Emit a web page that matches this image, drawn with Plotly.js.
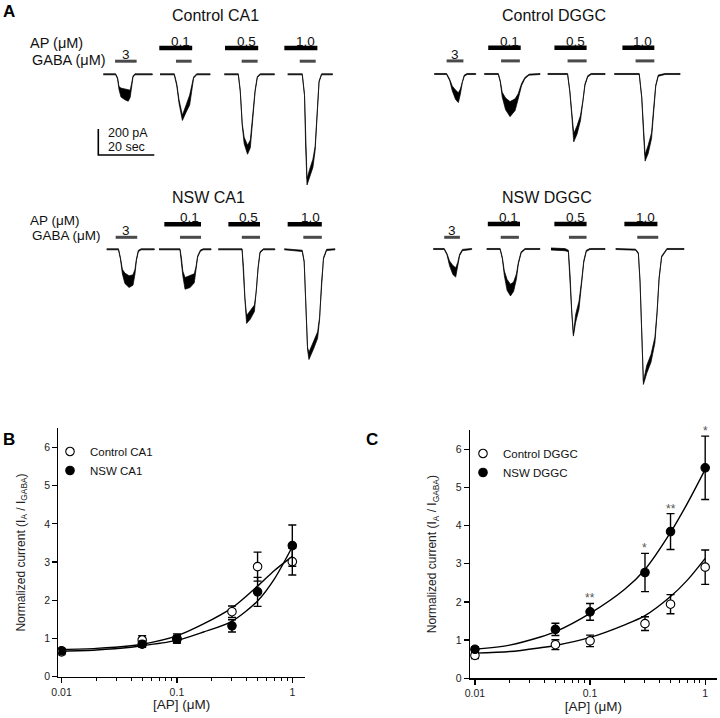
<!DOCTYPE html>
<html><head><meta charset="utf-8">
<script src="https://cdn.plot.ly/plotly-3.0.1.min.js"></script>
<style>html,body{margin:0;padding:0;background:#fff}#chart{width:720px;height:718px}</style>
</head><body><div id="chart"></div>
<script>
// ================= DATA =================
// Panels B & C: normalized current vs [AP] (uM)
const concAP = [0.01, 0.05, 0.1, 0.3, 0.5, 1];
const ctlCA1 = [0.65, 0.96, 1.00, 1.70, 2.88, 3.01];
const ctlCA1Err = [0.07, 0.11, 0.12, 0.15, 0.38, 0.35];
const nswCA1 = [0.68, 0.85, 0.98, 1.33, 2.22, 3.43];
const nswCA1Err = [0.06, 0.08, 0.10, 0.16, 0.38, 0.54];
const ctlDGGC = [0.60, 0.88, 0.98, 1.43, 1.94, 2.91];
const ctlDGGCErr = [0.08, 0.13, 0.15, 0.18, 0.25, 0.45];
const nswDGGC = [0.76, 1.28, 1.74, 2.77, 3.84, 5.51];
const nswDGGCErr = [0.06, 0.16, 0.22, 0.50, 0.47, 0.83];
const sigDGGC = ['', '', '**', '*', '**', '*'];
// fitted curves
const fitXB = [0.01, 0.02, 0.04, 0.05, 0.1, 0.17, 0.3, 0.5, 0.7, 1.0];
const fitCtlCA1 = [0.71, 0.74, 0.81, 0.85, 1.07, 1.38, 1.80, 2.37, 2.78, 3.15];
const fitNswCA1 = [0.67, 0.70, 0.77, 0.81, 0.95, 1.17, 1.45, 1.98, 2.56, 3.40];
const fitXC = [0.01, 0.02, 0.037, 0.05, 0.1, 0.2, 0.3, 0.5, 0.7, 1.0];
const fitCtlDGGC = [0.66, 0.70, 0.80, 0.86, 1.07, 1.40, 1.64, 2.14, 2.57, 3.14];
const fitNswDGGC = [0.76, 0.87, 1.08, 1.22, 1.70, 2.33, 2.85, 3.82, 4.58, 5.47];
const minorTicks = [0.02,0.03,0.04,0.05,0.06,0.07,0.08,0.09,0.2,0.3,0.4,0.5,0.6,0.7,0.8,0.9];

// Panel A: current traces, points [time s, current pA, noise half-amplitude pA]
const traceLabels = ['3', '0.1', '0.5', '1.0'];
const ctlCA1Traces = [
  [[0,0,4],[4.4,0,4],[5.1,-31,5],[5.6,-105,12],[6.3,-140,34],[7.7,-154,42],[8.9,-165,42],[9.6,-150,28],[10.1,-82,10],[10.6,-18,5],[11.3,0,4],[17.5,0,4]],
  [[0,0,4],[5.1,0,4],[6.0,-82,8],[6.8,-210,14],[8.0,-335,20],[9.2,-267,30],[10.6,-198,38],[11.3,-108,18],[12.0,-26,5],[13.1,0,4],[17.9,0,4]],
  [[0,0,4],[5.0,0,4],[5.7,-128,5],[6.4,-385,8],[7.1,-510,25],[8.3,-580,35],[9.3,-535,30],[10.2,-333,10],[11.0,-128,6],[11.8,-21,5],[12.8,0,4],[17.9,0,4]],
  [[0,0,4],[5.2,0,4],[6.0,-159,5],[6.4,-544,6],[6.9,-826,25],[7.9,-762,35],[9.0,-685,32],[9.8,-570,16],[10.5,-287,6],[11.2,-56,5],[12.1,0,4],[16.0,0,4]]
];
const ctlCA1AP = [null, [-0.25, 11.5], [0.25, 12.1], [-1.2, 10.6]];
const ctlCA1GABA = [[4.2, 11.9], [5.7, 11.3], [6.2, 11.9], [4.3, 10.0]];

const ctlDGGCTraces = [
  [[0,0,4],[4.4,0,4],[5.5,-46,5],[6.4,-110,18],[7.6,-160,36],[8.6,-182,38],[9.3,-136,20],[10.0,-59,7],[10.7,-13,5],[11.7,0,4],[14.8,0,4]],
  [[0,0,4],[5.0,0,4],[5.7,-56,5],[6.4,-159,18],[7.6,-230,45],[9.2,-270,58],[11.0,-236,45],[12.1,-172,20],[13.3,-82,8],[14.5,-31,5],[16.0,-5,4],[19.9,0,4]],
  [[0,0,4],[7.1,0,4],[7.9,-133,5],[8.6,-313,7],[9.3,-490,32],[10.5,-429,32],[11.7,-339,20],[12.6,-210,9],[13.3,-82,6],[14.3,-18,5],[15.5,0,4],[20.5,0,4]],
  [[0,0,4],[8.9,0,4],[9.8,-180,5],[10.4,-436,7],[11.0,-645,25],[12.1,-580,32],[13.3,-475,22],[14.0,-282,7],[14.8,-90,5],[15.7,-13,5],[18.1,0,4],[23.5,0,4]]
];
const ctlDGGCAP = [null, [1.4, 13.0], [2.4, 13.9], [2.9, 14.3]];
const ctlDGGCGABA = [[4.4, 10.4], [6.0, 12.7], [7.1, 13.9], [7.6, 14.3]];

const nswCA1Traces = [
  [[0,0,4],[4.2,0,4],[4.9,-69,5],[5.6,-172,18],[6.5,-223,40],[8.0,-249,45],[9.4,-236,40],[10.1,-172,18],[10.6,-82,7],[11.3,-13,5],[12.3,0,4],[17.0,0,4]],
  [[0,0,4],[7.5,0,4],[8.0,-69,5],[8.5,-185,18],[9.3,-262,45],[11.1,-249,45],[12.6,-223,35],[13.2,-146,10],[13.8,-56,5],[14.8,-10,5],[15.8,0,4],[18.6,0,4]],
  [[0,0,4],[8.5,0,4],[9.0,-146,5],[9.5,-377,7],[10.1,-540,30],[11.4,-506,32],[12.9,-454,25],[13.6,-326,9],[14.2,-146,6],[14.9,-23,5],[16.1,0,4],[20.2,0,4]],
  [[0,0,4],[6.4,-12,5],[7.1,-95,5],[7.7,-454,6],[8.3,-762,9],[8.8,-820,28],[10.4,-737,32],[11.9,-660,25],[12.6,-531,9],[13.3,-249,6],[14.0,-69,5],[15.1,-5,5],[18.1,0,4]]
];
const nswCA1AP = [null, [1.9, 15.0], [3.6, 14.9], [1.2, 13.4]];
const nswCA1GABA = [[3.2, 10.9], [7.5, 15.0], [8.4, 14.9], [6.8, 13.4]];

const nswDGGCTraces = [
  [[0,0,4],[3.9,0,4],[4.9,-41,5],[5.8,-110,18],[7.0,-162,35],[8.0,-180,36],[8.7,-123,18],[9.4,-46,6],[10.4,-8,5],[13.7,0,4]],
  [[0,0,4],[4.8,0,4],[5.6,-72,5],[6.3,-187,18],[7.3,-277,42],[8.5,-316,45],[9.6,-290,36],[10.6,-213,20],[11.3,-110,7],[12.3,-26,5],[13.7,0,4],[19.0,0,4]],
  [[0,0,8],[5.0,-5,8],[6.2,-15,6],[6.8,-200,5],[7.4,-482,5],[8.0,-662,8],[8.8,-534,30],[10.0,-431,30],[11.0,-252,20],[11.7,-97,7],[12.6,-15,5],[13.9,0,4],[19.3,0,4]],
  [[0,0,4],[7.1,-5,4],[8.1,-33,5],[8.7,-252,5],[9.3,-637,6],[9.9,-1030,12],[11.1,-925,30],[12.6,-842,30],[14.0,-701,22],[14.8,-482,7],[15.5,-226,6],[16.4,-59,5],[18.3,0,4],[24.4,0,4]]
];
const nswDGGCAP = [null, [0.4, 11.9], [1.2, 12.7], [3.1, 14.9]];
const nswDGGCGABA = [[3.9, 9.5], [5.0, 11.5], [6.4, 12.7], [7.7, 15.2]];

// scale bar
const scaleSec = 20, scalePA = 200;

// ================= LAYOUT HELPERS =================
const W = 720, H = 718, A_BOTTOM = 420;
const PX_PER_S = 2.8, PX_PER_PA = 0.13;
const px = x => x / W;
const py = y => 1 - y / H;
const sA = p => p / PX_PER_S;        // pixel x -> seconds on panel A axis
const iA = p => -p / PX_PER_PA;      // pixel y -> pA on panel A axis
const FONT = 'Liberation Sans, Arial, Helvetica, sans-serif';

const panelsA = [
  {title:'Control CA1', tx:170, ty:16, lx:28, apLy:43, gabaLy:60, labSize:14.5, starts:[103.3,160,224.3,287.7], base:74.3, apY:48, gabaY:61.2, traces:ctlCA1Traces, ap:ctlCA1AP, gaba:ctlCA1GABA, showLab:true},
  {title:'Control DGGC', tx:500, ty:16, starts:[434.3,484.3,547.7,614.3], base:74, apY:47.7, gabaY:60.9, traces:ctlDGGCTraces, ap:ctlDGGCAP, gaba:ctlDGGCGABA},
  {title:'NSW CA1', tx:170, ty:197, lx:28, apLy:220.5, gabaLy:236, labSize:13.5, starts:[106.7,159,218.3,284.3], base:249.3, apY:224.3, gabaY:237.3, traces:nswCA1Traces, ap:nswCA1AP, gaba:nswCA1GABA, showLab:true},
  {title:'NSW DGGC', tx:500, ty:197, starts:[433.3,486.7,551,615.7], base:249, apY:224, gabaY:237.3, traces:nswDGGCTraces, ap:nswDGGCAP, gaba:nswDGGCGABA}
];

const data = [];
const annotations = [];

panelsA.forEach(p => {
  annotations.push({xref:'paper', yref:'paper', x:px(p.tx), y:py(p.ty), xanchor:'left', yanchor:'middle', text:p.title, showarrow:false, font:{family:FONT, size:16, color:'#111'}});
  if (p.showLab) {
    annotations.push({xref:'paper', yref:'paper', x:px(p.lx), y:py(p.apLy), xanchor:'left', yanchor:'middle', text:'AP (μM)', showarrow:false, font:{family:FONT, size:p.labSize, color:'#111'}});
    annotations.push({xref:'paper', yref:'paper', x:px(p.lx + 1.5), y:py(p.gabaLy), xanchor:'left', yanchor:'middle', text:'GABA (μM)', showarrow:false, font:{family:FONT, size:p.labSize, color:'#111'}});
  }
  p.traces.forEach((tr, k) => {
    const off = sA(p.starts[k]);
    const b = iA(p.base);
    const xs = [], ys = [];
    tr.forEach(pt => { xs.push(off + pt[0]); ys.push(b + pt[1] + pt[2]); });
    for (let i = tr.length - 1; i >= 0; i--) { const pt = tr[i]; xs.push(off + pt[0]); ys.push(b + pt[1] - pt[2]); }
    data.push({type:'scatter', mode:'lines', x:xs, y:ys, fill:'toself', fillcolor:'#000', line:{color:'#000', width:0.7}, xaxis:'x3', yaxis:'y3', showlegend:false, hoverinfo:'skip'});
    if (p.ap[k]) {
      data.push({type:'scatter', mode:'lines', x:[off + p.ap[k][0], off + p.ap[k][1]], y:[iA(p.apY), iA(p.apY)], line:{color:'#000', width:4.5}, xaxis:'x3', yaxis:'y3', showlegend:false, hoverinfo:'skip'});
    }
    data.push({type:'scatter', mode:'lines', x:[off + p.gaba[k][0], off + p.gaba[k][1]], y:[iA(p.gabaY), iA(p.gabaY)], line:{color:'#4a4a4a', width:3}, xaxis:'x3', yaxis:'y3', showlegend:false, hoverinfo:'skip'});
    if (p.ap[k]) {
      annotations.push({xref:'x3', yref:'y3', x:off + p.ap[k][1], y:iA(p.apY - 6.5), xanchor:'right', yanchor:'middle', text:traceLabels[k], showarrow:false, font:{family:FONT, size:13.5, color:'#111'}});
    } else {
      annotations.push({xref:'x3', yref:'y3', x:off + (p.gaba[k][0] + p.gaba[k][1]) / 2, y:iA(p.gabaY - 6.5), xanchor:'center', yanchor:'middle', text:traceLabels[k], showarrow:false, font:{family:FONT, size:13.5, color:'#111'}});
    }
  });
});

// scale bar (corner placed at pixel 98.3,155)
const sbx = sA(98.3), sby = iA(155);
data.push({type:'scatter', mode:'lines', x:[sbx, sbx, sbx + scaleSec], y:[sby + scalePA, sby, sby], line:{color:'#000', width:1.6}, xaxis:'x3', yaxis:'y3', showlegend:false, hoverinfo:'skip'});
annotations.push({xref:'paper', yref:'paper', x:px(106), y:py(132.5), xanchor:'left', yanchor:'middle', text:scalePA + ' pA', showarrow:false, font:{family:FONT, size:12.5, color:'#111'}});
annotations.push({xref:'paper', yref:'paper', x:px(106), y:py(146.5), xanchor:'left', yanchor:'middle', text:scaleSec + ' sec', showarrow:false, font:{family:FONT, size:12.5, color:'#111'}});

// panel letters
[['A', 9, 12], ['B', 9, 439], ['C', 372, 439]].forEach(l => {
  annotations.push({xref:'paper', yref:'paper', x:px(l[1]), y:py(l[2]), xanchor:'center', yanchor:'middle', text:'<b>' + l[0] + '</b>', showarrow:false, font:{family:FONT, size:17, color:'#000'}});
});

// significance marks above NSW DGGC error bars
sigDGGC.forEach((s, i) => {
  if (!s) return;
  annotations.push({xref:'x2', yref:'y2', x:Math.log10(concAP[i]), y:nswDGGC[i] + nswDGGCErr[i], xanchor:'center', yanchor:'bottom', yshift:-4, text:s, showarrow:false, font:{family:FONT, size:12, color:'#555'}});
});

// ---- Panels B and C traces ----
function fitTrace(x, y, ax, ay) {
  return {type:'scatter', mode:'lines', x:x, y:y, line:{color:'#000', width:1.4, shape:'spline', smoothing:0.8}, xaxis:ax, yaxis:ay, showlegend:false, hoverinfo:'skip'};
}
function ptTrace(name, y, err, filled, ax, ay, leg) {
  return {type:'scatter', mode:'markers', name:name, x:concAP, y:y,
    error_y:{type:'data', array:err, visible:true, color:'#000', thickness:1.4, width:4},
    marker:{symbol:'circle', size:8.5, color: filled ? '#000' : '#fff', line:{color:'#000', width:1.1}},
    xaxis:ax, yaxis:ay, legend:leg, showlegend:true};
}
data.push(fitTrace(fitXB, fitCtlCA1, 'x', 'y'));
data.push(fitTrace(fitXB, fitNswCA1, 'x', 'y'));
data.push(ptTrace('Control CA1', ctlCA1, ctlCA1Err, false, 'x', 'y', 'legend'));
data.push(ptTrace('NSW CA1', nswCA1, nswCA1Err, true, 'x', 'y', 'legend'));
data.push(fitTrace(fitXC, fitCtlDGGC, 'x2', 'y2'));
data.push(fitTrace(fitXC, fitNswDGGC, 'x2', 'y2'));
data.push(ptTrace('Control DGGC', ctlDGGC, ctlDGGCErr, false, 'x2', 'y2', 'legend2'));
data.push(ptTrace('NSW DGGC', nswDGGC, nswDGGCErr, true, 'x2', 'y2', 'legend2'));

const ytitle = 'Normalized current (I<sub>A</sub> / I<sub>GABA</sub>)';
function xAxis(dom, rng, anchor) {
  return {domain:dom, type:'log', range:rng, anchor:anchor, tickmode:'array', tickvals:[0.01, 0.1, 1], ticktext:['0.01', '0.1', '1'],
    ticks:'outside', ticklen:5, tickwidth:1.2, tickcolor:'#000', showline:true, linecolor:'#000', linewidth:1.2,
    showgrid:false, zeroline:false, tickfont:{family:FONT, size:10.5, color:'#222'},
    minor:{tickmode:'array', tickvals:minorTicks, ticks:'outside', ticklen:3, tickwidth:1, tickcolor:'#000', showgrid:false},
    title:{text:'[AP] (μM)', font:{family:FONT, size:13.5, color:'#222'}, standoff:2}};
}
function yAxis(dom, anchor) {
  return {domain:dom, range:[0, 6.5], anchor:anchor, tickmode:'array', tickvals:[0,1,2,3,4,5,6],
    ticks:'outside', ticklen:5, tickwidth:1.2, tickcolor:'#000', showline:true, linecolor:'#000', linewidth:1.2,
    showgrid:false, zeroline:false, tickfont:{family:FONT, size:10.5, color:'#222'},
    title:{text:ytitle, font:{family:FONT, size:12, color:'#222'}, standoff:16}};
}

const layout = {
  width:W, height:H, margin:{l:0, r:0, t:0, b:0},
  paper_bgcolor:'#fff', plot_bgcolor:'rgba(0,0,0,0)',
  font:{family:FONT, color:'#111'},
  xaxis: xAxis([px(58.3), px(305)], [-2.028, 0.110], 'y'),
  yaxis: yAxis([py(676.7), py(428.3)], 'x'),
  xaxis2: xAxis([px(470), px(716.7)], [-2.043, 0.100], 'y2'),
  yaxis2: yAxis([py(678.3), py(430)], 'x2'),
  xaxis3: {domain:[0, 1], range:[0, sA(W)], anchor:'y3', visible:false, fixedrange:true},
  yaxis3: {domain:[py(A_BOTTOM), 1], range:[iA(A_BOTTOM), 0], anchor:'x3', visible:false, fixedrange:true},
  legend: {x:px(50), y:py(437), xanchor:'left', yanchor:'top', bgcolor:'rgba(0,0,0,0)', font:{family:FONT, size:11.5, color:'#111'}, tracegroupgap:0},
  legend2: {x:px(463), y:py(439), xanchor:'left', yanchor:'top', bgcolor:'rgba(0,0,0,0)', font:{family:FONT, size:11.5, color:'#111'}, tracegroupgap:0},
  annotations: annotations,
  showlegend:true
};

Plotly.newPlot('chart', data, layout, {displayModeBar:false, staticPlot:true});
</script>
</body></html>
